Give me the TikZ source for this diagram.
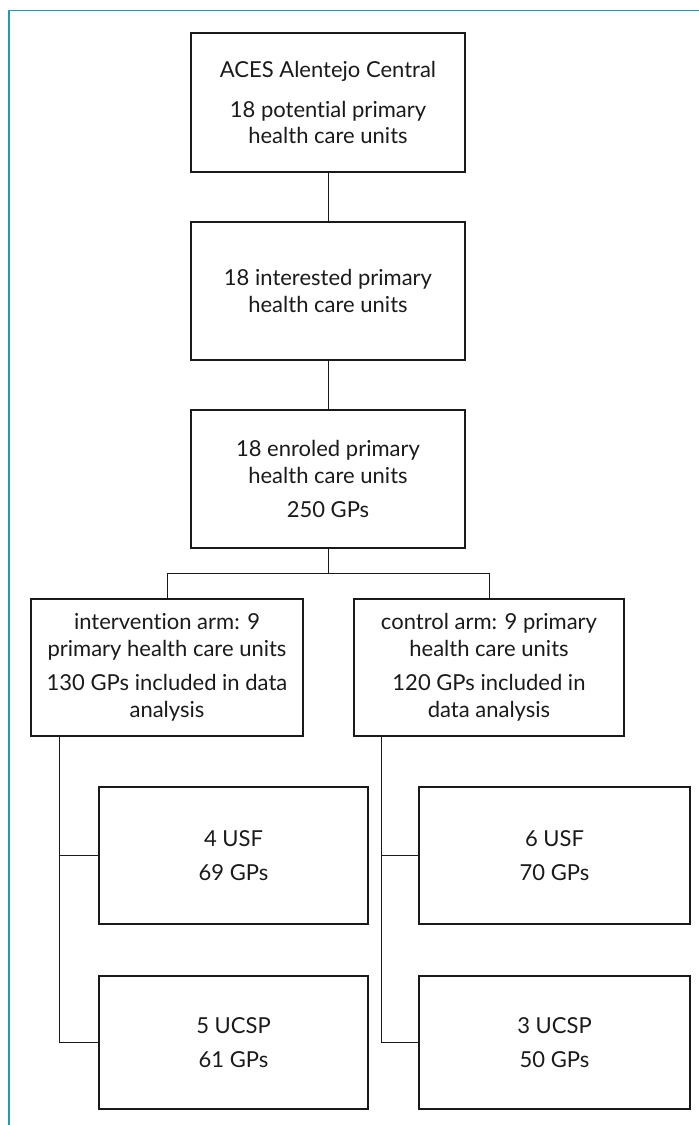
\documentclass[tikz,border=0pt]{standalone}
\usepackage{fontspec}
\setmainfont{Lato}[Ligatures=CommonOff]
\usetikzlibrary{calc}
\definecolor{frame}{HTML}{1E9DB2}
\definecolor{ink}{HTML}{1A1A1A}
\begin{document}
\begin{tikzpicture}[x=1pt,y=-1pt,
  box/.style={draw=ink,line width=1.1pt,rectangle,inner sep=0pt,align=center,
    font=\fontsize{22}{26.5}\selectfont,text=ink},
  conn/.style={draw=ink,line width=1pt}]
\useasboundingbox (0,0) rectangle (699,1125);
\draw[frame,line width=1.6pt] (9,1125) -- (9,10.5) -- (699,10.5);

\node[box,minimum width=274pt,minimum height=139pt] (b1) at (328,102.5)
  {ACES Alentejo Central\\[13pt]18 potential primary\\health care units};
\node[box,minimum width=274pt,minimum height=138pt] (b2) at (328,291)
  {18 interested primary\\health care units};
\node[box,minimum width=274pt,minimum height=138pt] (b3) at (328,479)
  {18 enroled primary\\health care units\\[8pt]250 GPs};
\node[box,minimum width=272pt,minimum height=137pt] (armL) at (167,667.5)
  {intervention arm: 9\\primary health care units\\[8pt]130 GPs included in data\\analysis};
\node[box,minimum width=270pt,minimum height=137pt] (armR) at (489,667.5)
  {control arm: 9 primary\\health care units\\[8pt]120 GPs included in\\data analysis};
\node[box,minimum width=269pt,minimum height=137pt] (usfL) at (233.5,855.5)
  {4 USF\\[8pt]69 GPs};
\node[box,minimum width=271pt,minimum height=137pt] (usfR) at (554.5,855.5)
  {6 USF\\[8pt]70 GPs};
\node[box,minimum width=269pt,minimum height=133pt] (ucspL) at (233.5,1042.5)
  {5 UCSP\\[8pt]61 GPs};
\node[box,minimum width=271pt,minimum height=133pt] (ucspR) at (554.5,1042.5)
  {3 UCSP\\[8pt]50 GPs};

\draw[conn] (b1.south) -- (b2.north);
\draw[conn] (b2.south) -- (b3.north);
\coordinate (j) at ($(b3.south)+(0,25)$);
\draw[conn] (b3.south) -- (j);
\draw[conn] (armL.north) |- (j) -| (armR.north);

\coordinate (tL) at ($(armL.south west)+(29,0)$);
\draw[conn] (tL) |- (ucspL.west);
\draw[conn] (usfL.west) -- (usfL.west -| tL);
\coordinate (tR) at ($(armR.south west)+(28,0)$);
\draw[conn] (tR) |- (ucspR.west);
\draw[conn] (usfR.west) -- (usfR.west -| tR);
\end{tikzpicture}
\end{document}
